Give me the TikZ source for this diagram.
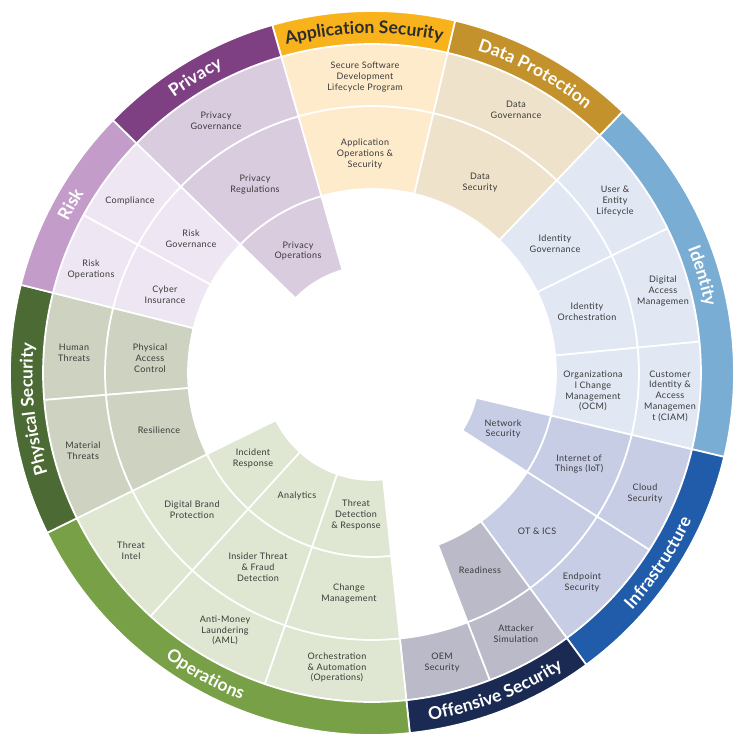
\documentclass[tikz,border=0pt]{standalone}
\usepackage{fontspec}
\setmainfont{Lato}
\newfontfamily\lblfont{Lato}[LetterSpace=4]
\newfontfamily\bandfont{Lato}
\usetikzlibrary{decorations.text}
\definecolor{labgray}{RGB}{58,58,58}
\definecolor{asBand}{RGB}{248,179,28}\definecolor{asSeg}{RGB}{254,235,204}
\definecolor{dpBand}{RGB}{196,146,45}\definecolor{dpSeg}{RGB}{238,226,203}
\definecolor{idBand}{RGB}{122,173,212}\definecolor{idSeg}{RGB}{225,232,244}
\definecolor{inBand}{RGB}{32,92,169}\definecolor{inSeg}{RGB}{200,205,230}
\definecolor{osBand}{RGB}{26,42,82}\definecolor{osSeg}{RGB}{187,186,201}
\definecolor{opBand}{RGB}{120,160,70}\definecolor{opSeg}{RGB}{223,230,209}
\definecolor{psBand}{RGB}{75,106,52}\definecolor{psSeg}{RGB}{206,210,193}
\definecolor{rkBand}{RGB}{195,156,201}\definecolor{rkSeg}{RGB}{238,231,243}
\definecolor{pvBand}{RGB}{126,64,131}\definecolor{pvSeg}{RGB}{217,204,223}
\definecolor{darktitle}{RGB}{45,45,45}
\tikzset{
  seg/.style={draw=white, line width=1.7pt, line join=round},
  lab/.style={align=center, font=\lblfont\fontsize{9}{10.8}\selectfont, text=labgray, inner sep=0pt},
}
\newcommand\annseg[5]{\filldraw[seg, fill=#5] (#1:#3pt) arc[start angle=#1, end angle=#2, radius=#3pt] -- (#2:#4pt) arc[start angle=#2, end angle=#1, radius=#4pt] -- cycle;}
\def\bandstyle{\bandfont\bfseries\fontsize{17.5}{17.5}\selectfont}
\newcommand\bandtext[5]{\path[decorate, decoration={text along path, text align=center, text={|\bandstyle\color{#5}|#4}}] (#1:#3pt) arc[start angle=#1, end angle=#2, radius=#3pt];}
\begin{document}
\begin{tikzpicture}[x=1pt,y=1pt]
\useasboundingbox (-372,-371) rectangle (372,373);
% radii
\def\Ra{107}\def\Rb{184}\def\Rc{267}\def\Rd{329}\def\Re{362}
% Application Security
\annseg{76.7}{106}{\Rb}{\Rc}{asSeg}
\annseg{76.7}{106}{\Rc}{\Rd}{asSeg}
\annseg{76.7}{106}{\Rd}{\Re}{asBand}
% Data Protection
\annseg{46.2}{76.7}{\Rb}{\Rc}{dpSeg}
\annseg{46.2}{76.7}{\Rc}{\Rd}{dpSeg}
\annseg{46.2}{76.7}{\Rd}{\Re}{dpBand}
% Identity
\annseg{-13.4}{5.5}{\Rb}{\Rc}{idSeg}
\annseg{5.5}{26.1}{\Rb}{\Rc}{idSeg}
\annseg{26.1}{46.2}{\Rb}{\Rc}{idSeg}
\annseg{-13.4}{5.5}{\Rc}{\Rd}{idSeg}
\annseg{5.5}{26.1}{\Rc}{\Rd}{idSeg}
\annseg{26.1}{46.2}{\Rc}{\Rd}{idSeg}
\annseg{-13.4}{46.2}{\Rd}{\Re}{idBand}
% Infrastructure
\annseg{-32.5}{-13.4}{\Ra}{\Rb}{inSeg}
\annseg{-53.7}{-32.5}{\Rb}{\Rc}{inSeg}
\annseg{-32.5}{-13.4}{\Rb}{\Rc}{inSeg}
\annseg{-53.7}{-32.5}{\Rc}{\Rd}{inSeg}
\annseg{-32.5}{-13.4}{\Rc}{\Rd}{inSeg}
\annseg{-53.7}{-13.4}{\Rd}{\Re}{inBand}
% Offensive Security
\annseg{-69}{-53.7}{\Rb}{\Rc}{osSeg}
\annseg{-84}{-69}{\Rc}{\Rd}{osSeg}
\annseg{-69}{-53.7}{\Rc}{\Rd}{osSeg}
\annseg{-84}{-53.7}{\Rd}{\Re}{osBand}
% Operations
\annseg{206.2}{227.7}{\Ra}{\Rb}{opSeg}
\annseg{227.7}{251}{\Ra}{\Rb}{opSeg}
\annseg{251}{276}{\Ra}{\Rb}{opSeg}
\annseg{206.2}{227.7}{\Rb}{\Rc}{opSeg}
\annseg{227.7}{251}{\Rb}{\Rc}{opSeg}
\annseg{251}{276}{\Rb}{\Rc}{opSeg}
\annseg{206.2}{227.7}{\Rc}{\Rd}{opSeg}
\annseg{227.7}{251}{\Rc}{\Rd}{opSeg}
\annseg{251}{276}{\Rc}{\Rd}{opSeg}
\annseg{206.2}{276}{\Rd}{\Re}{opBand}
% Physical Security
\annseg{165.9}{184.7}{\Rb}{\Rc}{psSeg}
\annseg{184.7}{206.2}{\Rb}{\Rc}{psSeg}
\annseg{165.9}{184.7}{\Rc}{\Rd}{psSeg}
\annseg{184.7}{206.2}{\Rc}{\Rd}{psSeg}
\annseg{165.9}{206.2}{\Rd}{\Re}{psBand}
% Risk
\annseg{135.7}{151.3}{\Rb}{\Rc}{rkSeg}
\annseg{151.3}{165.9}{\Rb}{\Rc}{rkSeg}
\annseg{135.7}{151.3}{\Rc}{\Rd}{rkSeg}
\annseg{151.3}{165.9}{\Rc}{\Rd}{rkSeg}
\annseg{135.7}{165.9}{\Rd}{\Re}{rkBand}
% Privacy
\annseg{106}{135.7}{\Ra}{\Rb}{pvSeg}
\annseg{106}{135.7}{\Rb}{\Rc}{pvSeg}
\annseg{106}{135.7}{\Rc}{\Rd}{pvSeg}
\annseg{106}{135.7}{\Rd}{\Re}{pvBand}
% band titles
\bandtext{106}{76.7}{339.5}{Application Security}{darktitle}
\bandtext{76.7}{46.2}{339.5}{Data Protection}{white}
\bandtext{46.2}{-13.4}{339.5}{Identity}{white}
\bandtext{-53.7}{-13.4}{352}{Infrastructure}{white}
\bandtext{-84}{-53.7}{352}{Offensive Security}{white}
\bandtext{206.2}{276}{352}{Operations}{white}
\bandtext{206.2}{165.9}{339.5}{Physical Security}{white}
\bandtext{165.9}{135.7}{339.5}{Risk}{white}
\bandtext{135.7}{106}{339.5}{Privacy}{white}
% labels
\node[lab] (ssdlp) at (-7,296) {Secure Software\\Development\\Lifecycle Program};
\node[lab] (aos) at (-7,219) {Application\\Operations \&\\Security};
\node[lab] (dgov) at (144,263.5) {Data\\Governance};
\node[lab] (dsec) at (108,190.5) {Data\\Security};
\node[lab] (uel) at (243,172) {User \&\\Entity\\Lifecycle};
\node[lab] (igov) at (183,129.5) {Identity\\Governance};
\node[lab] (dam) at (291,82) {Digital\\Access\\Managemen};
\node[lab] (iorch) at (215,61) {Identity\\Orchestration};
\node[lab] (ocm) at (221,-18) {Organizationa\\l Change\\Management\\(OCM)};
\node[lab] (ciam) at (298,-23) {Customer\\Identity \&\\Access\\Managemen\\t (CIAM)};
\node[lab] (nsec) at (131,-56) {Network\\Security};
\node[lab] (iot) at (207,-91) {Internet of\\Things (IoT)};
\node[lab] (cloud) at (273,-120.5) {Cloud\\Security};
\node[lab] (otics) at (165,-158) {OT \& ICS};
\node[lab] (ready) at (108,-197) {Readiness};
\node[lab] (endp) at (210,-209.5) {Endpoint\\Security};
\node[lab] (atk) at (144,-260.5) {Attacker\\Simulation};
\node[lab] (oem) at (70,-289.5) {OEM\\Security};
\node[lab] (orch) at (-35,-294.5) {Orchestration\\\& Automation\\(Operations)};
\node[lab] (chg) at (-23,-220.5) {Change\\Management};
\node[lab] (tdr) at (-16,-142) {Threat\\Detection\\\& Response};
\node[lab] (anl) at (-75,-123) {Analytics};
\node[lab] (ir) at (-119,-85.5) {Incident\\Response};
\node[lab] (ins) at (-114,-194) {Insider Threat\\\& Fraud\\Detection};
\node[lab] (dbp) at (-180,-136.5) {Digital Brand\\Protection};
\node[lab] (aml) at (-147,-257.5) {Anti-Money\\Laundering\\(AML)};
\node[lab] (ti) at (-241,-177.5) {Threat\\Intel};
\node[lab] (mat) at (-289,-77.5) {Material\\Threats};
\node[lab] (res) at (-213,-57) {Resilience};
\node[lab] (hum) at (-298,20) {Human\\Threats};
\node[lab] (pac) at (-222,15) {Physical\\Access\\Control};
\node[lab] (rops) at (-281,103.5) {Risk\\Operations};
\node[lab] (cyb) at (-207,78.5) {Cyber\\Insurance};
\node[lab] (comp) at (-242,172) {Compliance};
\node[lab] (rgov) at (-181,134.5) {Risk\\Governance};
\node[lab] (pgov) at (-156,252) {Privacy\\Governance};
\node[lab] (preg) at (-117,188.5) {Privacy\\Regulations};
\node[lab] (pops) at (-74,122) {Privacy\\Operations};
\end{tikzpicture}
\end{document}
